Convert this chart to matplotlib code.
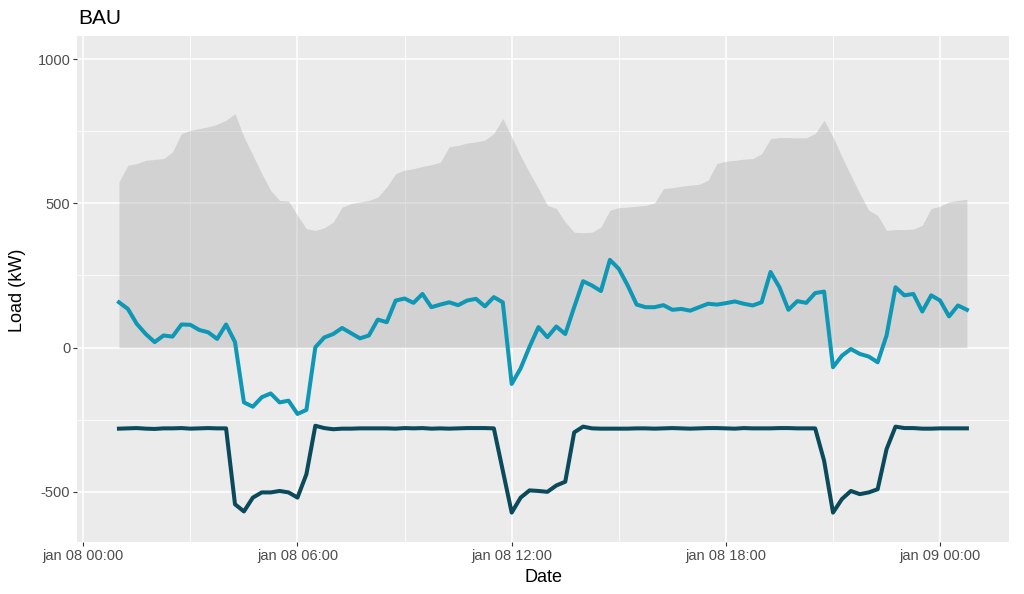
import numpy as np
import pandas as pd
import matplotlib
matplotlib.use("Agg")
import matplotlib.pyplot as plt
import matplotlib.dates as mdates
from matplotlib.ticker import FuncFormatter, MultipleLocator

plt.rcParams["font.family"] = ["Liberation Sans", "DejaVu Sans"]
plt.rcParams["axes.unicode_minus"] = False

# 15 min data, jan 08 01:00 -> jan 09 00:45
start = "2024-01-08 01:00"
n_points = 96

upper = [574, 632, 638, 649, 652, 655, 678, 742, 753, 759, 765, 774, 788, 811, 730, 667,
         603, 545, 510, 508, 458, 412, 406, 415, 435, 487, 499, 505, 510, 522, 557, 603,
         615, 620, 628, 634, 642, 696, 701, 709, 713, 719, 742, 794, 730, 664, 606, 551,
         493, 482, 435, 400, 398, 400, 418, 476, 485, 487, 490, 493, 501, 551, 554, 559,
         563, 566, 580, 638, 646, 649, 653, 655, 672, 724, 728, 728, 727, 727, 742, 788,
         730, 661, 597, 534, 476, 458, 406, 409, 409, 411, 424, 482, 490, 505, 510, 514]

net_load = [157, 134, 82, 47, 19, 42, 38, 80, 79, 61, 53, 30, 80, 19, -190, -205,
            -172, -159, -190, -184, -230, -216, 1, 35, 47, 68, 50, 32, 42, 97, 88, 163,
            170, 155, 186, 140, 149, 157, 147, 163, 169, 143, 175, 157, -126, -72, 3, 71,
            36, 73, 47, 140, 230, 215, 196, 304, 273, 215, 149, 140, 140, 147, 131, 134,
            128, 140, 152, 149, 154, 160, 152, 146, 157, 262, 209, 131, 161, 155, 189, 194,
            -68, -28, -5, -22, -31, -51, 42, 209, 181, 186, 125, 181, 163, 108, 146, 131]

battery = [-281, -280, -279, -281, -282, -280, -280, -279, -281, -280, -279, -280, -280, -543, -568, -520,
           -502, -502, -497, -502, -520, -439, -271, -279, -283, -281, -281, -280, -280, -280, -280, -281,
           -279, -280, -279, -281, -280, -281, -280, -279, -279, -279, -280, -426, -572, -520, -495, -497,
           -500, -478, -465, -294, -274, -280, -281, -281, -281, -281, -280, -280, -281, -280, -279, -280,
           -281, -280, -279, -279, -280, -281, -279, -280, -280, -280, -279, -279, -280, -280, -280, -392,
           -572, -525, -497, -508, -502, -491, -352, -274, -279, -279, -281, -281, -280, -280, -280, -280]

time = pd.date_range(start, periods=n_points, freq="15min")

fig = plt.figure(figsize=(10.24, 5.94), dpi=100)
ax = fig.add_axes([0.0755, 0.087, 0.91, 0.8524])
ax.set_facecolor("#EBEBEB")
for s in ax.spines.values():
    s.set_visible(False)

ax.fill_between(time, 0, upper, color="#999999", alpha=0.3, linewidth=0, zorder=2)
ax.plot(time, net_load, color="#0E98B5", linewidth=2.9, zorder=3)
ax.plot(time, battery, color="#0B4A5B", linewidth=2.9, zorder=3)

t0 = pd.Timestamp("2024-01-08 00:00")
ax.set_xlim(t0 - pd.Timedelta(minutes=10), t0 + pd.Timedelta(hours=25, minutes=56))
ax.set_ylim(-675, 1080)

ax.xaxis.set_major_locator(mdates.HourLocator(byhour=[0, 6, 12, 18]))
ax.xaxis.set_minor_locator(mdates.HourLocator(byhour=[3, 9, 15, 21]))
ax.xaxis.set_major_formatter(FuncFormatter(lambda v, p: mdates.num2date(v).strftime("%b %d %H:%M").lower()))
ax.yaxis.set_major_locator(MultipleLocator(500))
ax.yaxis.set_minor_locator(MultipleLocator(250))

ax.grid(which="major", color="white", linewidth=1.1, zorder=1)
ax.grid(which="minor", color="white", linewidth=0.55, zorder=1)
ax.set_axisbelow(True)

ax.tick_params(which="major", length=3, width=0.8, color="#333333", labelsize=10.5,
               labelcolor="#4D4D4D", pad=2)
ax.tick_params(which="minor", length=0)

fig.text(0.5305, 1 - 578 / 594, "Date", ha="center", va="center", fontsize=13)
fig.text(18 / 1024, 1 - 290 / 594, "Load (kW)", ha="center", va="center", rotation=90, fontsize=13)
fig.text(78 / 1024, 1 - 18 / 594, "BAU", ha="left", va="center", fontsize=15)

fig.savefig("out.png", dpi=100)
